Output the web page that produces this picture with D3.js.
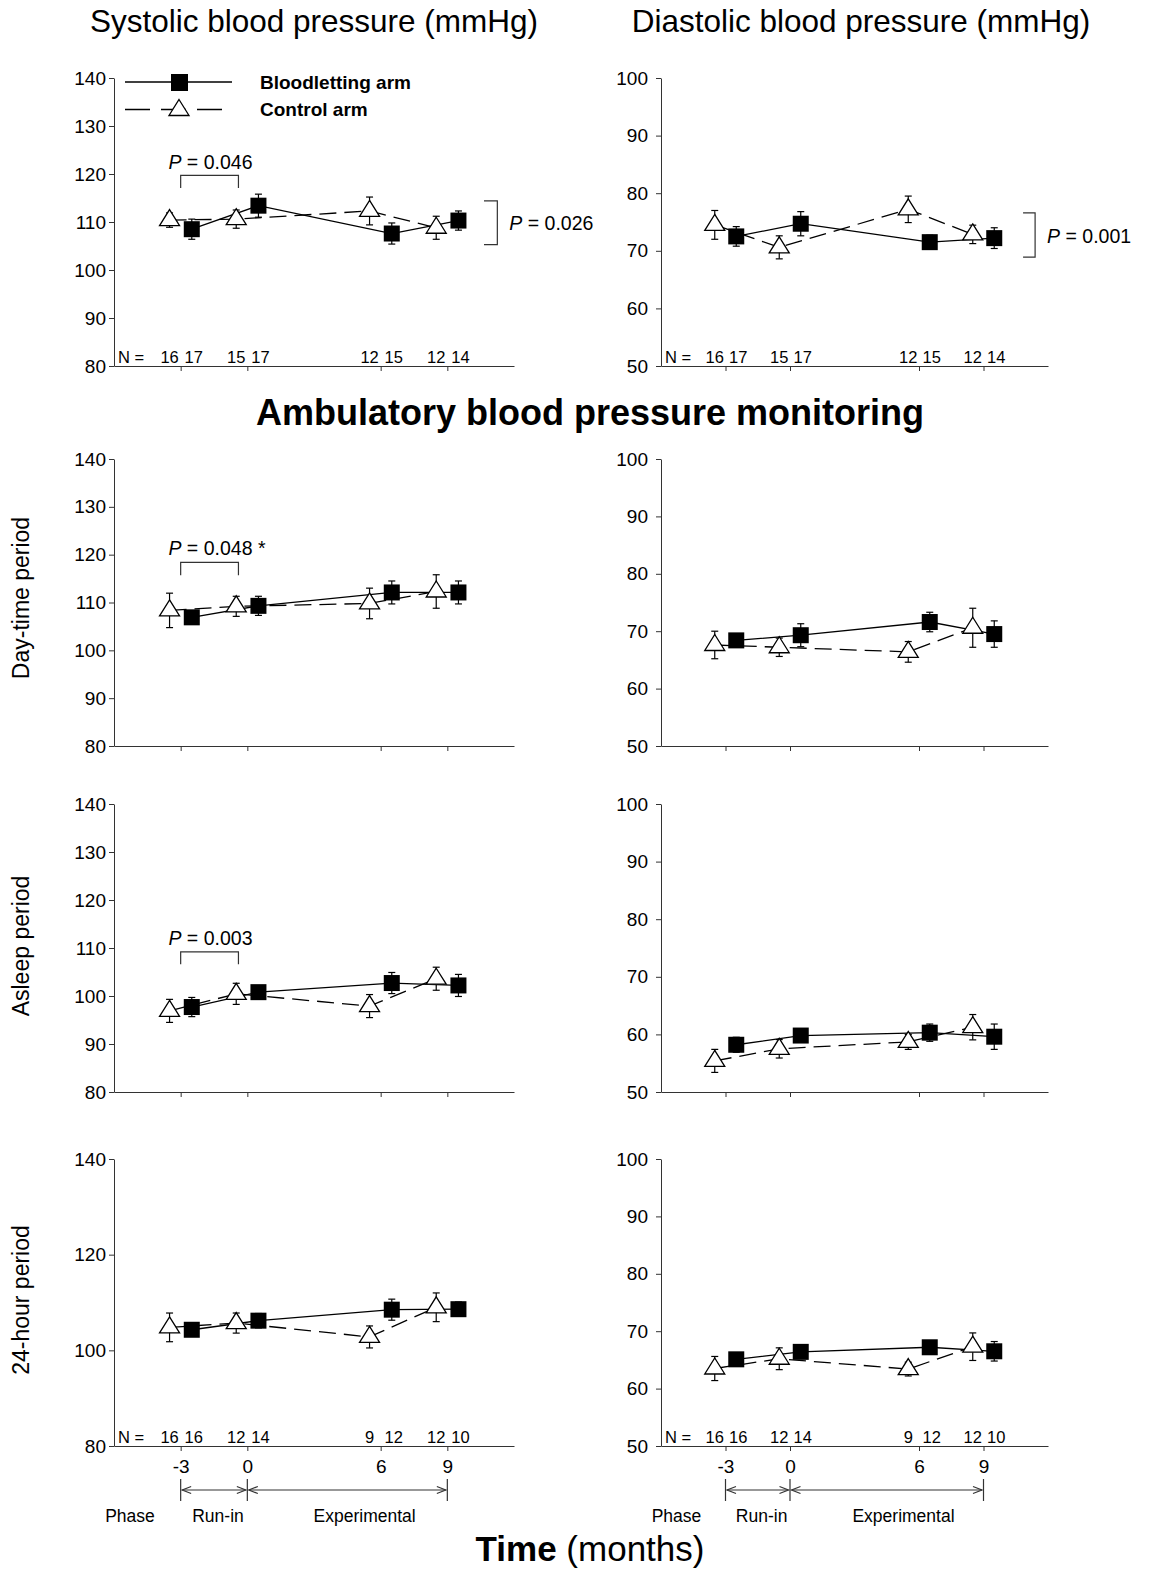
<!DOCTYPE html>
<html>
<head>
<meta charset="utf-8">
<script src="https://cdn.jsdelivr.net/npm/d3@7"></script>
<style>
  body { margin: 0; background: #fff; }
  svg text { font-family: "Liberation Sans", Arial, sans-serif; fill: #000; }
</style>
</head>
<body>
<div id="chart"></div>
<script>
// visit months, the two arms are shifted half a month apart
const months = [-3, 0, 6, 9];
const armShift = 0.5;

const sbpTicks = [80, 90, 100, 110, 120, 130, 140];
const sbp24Ticks = [80, 100, 120, 140];
const dbpTicks = [50, 60, 70, 80, 90, 100];

// office readings
const officeSbpBlood = [108.5, 113.4, 107.6, 110.3];
const officeSbpBloodSem = [2.1, 2.4, 2.2, 2.0];
const officeSbpCtrl = [110.4, 110.6, 112.3, 108.8];
const officeSbpCtrlSem = [1.5, 1.9, 2.9, 2.4];
const officeDbpBlood = [72.5, 74.7, 71.5, 72.2];
const officeDbpBloodSem = [1.7, 2.1, 1.2, 1.8];
const officeDbpCtrl = [74.5, 70.6, 77.2, 72.85];
const officeDbpCtrlSem = [2.5, 2.0, 2.3, 1.6];

// ABPM day-time
const daySbpBlood = [106.9, 109.3, 112.1, 112.1];
const daySbpBloodSem = [1.0, 2.0, 2.4, 2.4];
const daySbpCtrl = [108.35, 109.2, 109.8, 112.3];
const daySbpCtrlSem = [3.6, 2.1, 3.2, 3.5];
const dayDbpBlood = [68.4, 69.3, 71.6, 69.5];
const dayDbpBloodSem = [1.0, 2.0, 1.7, 2.3];
const dayDbpCtrl = [67.6, 67.2, 66.4, 70.6];
const dayDbpCtrlSem = [2.4, 1.6, 1.8, 3.4];

// ABPM asleep
const sleepSbpBlood = [97.7, 100.8, 102.7, 102.2];
const sleepSbpBloodSem = [2.0, 1.0, 2.2, 2.3];
const sleepSbpCtrl = [96.9, 100.45, 97.9, 103.6];
const sleepSbpCtrlSem = [2.4, 2.2, 2.4, 2.4];
const sleepDbpBlood = [58.2, 59.8, 60.3, 59.6];
const sleepDbpBloodSem = [1.3, 1.0, 1.5, 2.2];
const sleepDbpCtrl = [55.4, 57.5, 58.7, 61.25];
const sleepDbpCtrlSem = [2.0, 1.6, 1.3, 2.2];

// ABPM 24-hour
const allSbpBlood = [104.3, 106.2, 108.5, 108.6];
const allSbpBloodSem = [1.0, 1.5, 2.2, 1.5];
const allSbpCtrl = [104.8, 105.7, 102.8, 109.0];
const allSbpCtrlSem = [3.0, 2.1, 2.3, 3.0];
const allDbpBlood = [65.1, 66.4, 67.2, 66.5];
const allDbpBloodSem = [1.0, 1.0, 1.0, 1.7];
const allDbpCtrl = [63.5, 65.2, 63.4, 67.3];
const allDbpCtrlSem = [2.1, 1.9, 1.2, 2.4];

// patients per visit
const nOfficeCtrl = [16, 15, 12, 12];
const nOfficeBlood = [17, 17, 15, 14];
const nAbpmCtrl = [16, 12, 9, 12];
const nAbpmBlood = [16, 14, 12, 10];

const phaseLabels = ['Phase', 'Run-in', 'Experimental'];
const rowLabels = ['Day-time period', 'Asleep period', '24-hour period'];

const W = 1164, H = 1571;
const svg = d3.select('#chart').append('svg')
  .attr('width', W).attr('height', H)
  .attr('viewBox', [0, 0, W, H]);

const colL = { x0: 114, x1: 514, pad: 3 };
const colR = { x0: 661, x1: 1048, pad: 8 };
const rows = [
  { y0: 78, y1: 366 },
  { y0: 459, y1: 746 },
  { y0: 804, y1: 1092 },
  { y0: 1159, y1: 1446 }
];

function pText(g, x, y, value, anchor) {
  const t = g.append('text').attr('x', x).attr('y', y)
    .attr('font-size', 19.5).attr('text-anchor', anchor || 'start');
  t.append('tspan').attr('font-style', 'italic').text('P');
  t.append('tspan').text(' = ' + value);
  return t;
}

function drawPanel(cfg) {
  const x = d3.scaleLinear().domain([-6, 12]).range([cfg.col.x0, cfg.col.x1]);
  const y = d3.scaleLinear().domain(cfg.domain).range([cfg.row.y1, cfg.row.y0]);
  const g = svg.append('g');

  const yAxis = g.append('g')
    .attr('transform', `translate(${cfg.col.x0},0)`)
    .call(d3.axisLeft(y).tickValues(cfg.ticks).tickSize(5).tickSizeOuter(0).tickPadding(cfg.col.pad));

  const xAxis = g.append('g')
    .attr('transform', `translate(0,${cfg.row.y1})`)
    .call(d3.axisBottom(x).tickValues(months).tickSize(5).tickSizeOuter(0).tickPadding(9)
      .tickFormat(cfg.bottom ? d => String(d) : ''));

  [yAxis, xAxis].forEach(a => {
    a.attr('font-family', null).attr('font-size', 19);
    a.selectAll('path, line').attr('stroke', '#333').attr('stroke-width', 1);
    a.selectAll('text').attr('fill', '#000');
  });

  const ctrl = months.map((m, i) => ({ m: m - armShift, v: cfg.ctrl[i], s: cfg.ctrlSem[i] }));
  const blood = months.map((m, i) => ({ m: m + armShift, v: cfg.blood[i], s: cfg.bloodSem[i] }));

  // error bars
  const bars = g.append('g').attr('stroke', '#000').attr('stroke-width', 1.2);
  ctrl.concat(blood).forEach(d => {
    const cx = x(d.m), hi = y(d.v + d.s), lo = y(d.v - d.s);
    bars.append('line').attr('x1', cx).attr('x2', cx).attr('y1', hi).attr('y2', lo);
    bars.append('line').attr('x1', cx - 3.5).attr('x2', cx + 3.5).attr('y1', hi).attr('y2', hi);
    bars.append('line').attr('x1', cx - 3.5).attr('x2', cx + 3.5).attr('y1', lo).attr('y2', lo);
  });

  const line = d3.line().x(d => x(d.m)).y(d => y(d.v));
  g.append('path').datum(blood).attr('d', line)
    .attr('fill', 'none').attr('stroke', '#000').attr('stroke-width', 1.3);
  g.append('path').datum(ctrl).attr('d', line)
    .attr('fill', 'none').attr('stroke', '#000').attr('stroke-width', 1.3)
    .attr('stroke-dasharray', '17,8');

  g.selectAll('.tri').data(ctrl).join('path')
    .attr('class', 'tri')
    .attr('transform', d => `translate(${x(d.m)},${y(d.v)})`)
    .attr('d', 'M0,-10.5L10,5.5L-10,5.5Z')
    .attr('fill', '#fff').attr('stroke', '#000').attr('stroke-width', 1.3);

  g.selectAll('.sq').data(blood).join('rect')
    .attr('class', 'sq')
    .attr('x', d => x(d.m) - 8).attr('y', d => y(d.v) - 8)
    .attr('width', 16).attr('height', 16)
    .attr('fill', '#000');

  if (cfg.nCtrl) {
    const ny = cfg.row.y1 - 3;
    g.append('text').attr('x', cfg.col.x0 + 4).attr('y', ny).attr('font-size', 16.5).text('N =');
    ctrl.forEach((d, i) => g.append('text').attr('x', x(d.m)).attr('y', ny)
      .attr('font-size', 16.5).attr('text-anchor', 'middle').text(cfg.nCtrl[i]));
    blood.forEach((d, i) => g.append('text').attr('x', x(d.m) + 2).attr('y', ny)
      .attr('font-size', 16.5).attr('text-anchor', 'middle').text(cfg.nBlood[i]));
  }

  if (cfg.bottom) {
    const ay = cfg.row.y1 + 44;
    const ph = g.append('g').attr('stroke', '#333').attr('stroke-width', 1.2).attr('fill', 'none');
    [-3, 0, 9].forEach(m => ph.append('line')
      .attr('x1', x(m)).attr('x2', x(m)).attr('y1', ay - 11).attr('y2', ay + 11));
    [[-3, 0], [0, 9]].forEach(([a, b]) => {
      const xa = x(a) + 1.5, xb = x(b) - 1.5;
      ph.append('line').attr('x1', xa).attr('x2', xb).attr('y1', ay).attr('y2', ay);
      ph.append('path').attr('d', `M${xa + 9},${ay - 3.5}L${xa},${ay}L${xa + 9},${ay + 3.5}`);
      ph.append('path').attr('d', `M${xb - 9},${ay - 3.5}L${xb},${ay}L${xb - 9},${ay + 3.5}`);
    });
    const py = cfg.row.y1 + 76;
    [-5.28, -1.32, 5.28].forEach((m, i) => g.append('text')
      .attr('x', x(m)).attr('y', py).attr('font-size', 17.5)
      .attr('text-anchor', 'middle').text(phaseLabels[i]));
  }

  return { g, x, y };
}

const panels = [
  { col: colL, row: rows[0], domain: [80, 140], ticks: sbpTicks,
    blood: officeSbpBlood, bloodSem: officeSbpBloodSem, ctrl: officeSbpCtrl, ctrlSem: officeSbpCtrlSem,
    nCtrl: nOfficeCtrl, nBlood: nOfficeBlood },
  { col: colR, row: rows[0], domain: [50, 100], ticks: dbpTicks,
    blood: officeDbpBlood, bloodSem: officeDbpBloodSem, ctrl: officeDbpCtrl, ctrlSem: officeDbpCtrlSem,
    nCtrl: nOfficeCtrl, nBlood: nOfficeBlood },
  { col: colL, row: rows[1], domain: [80, 140], ticks: sbpTicks,
    blood: daySbpBlood, bloodSem: daySbpBloodSem, ctrl: daySbpCtrl, ctrlSem: daySbpCtrlSem },
  { col: colR, row: rows[1], domain: [50, 100], ticks: dbpTicks,
    blood: dayDbpBlood, bloodSem: dayDbpBloodSem, ctrl: dayDbpCtrl, ctrlSem: dayDbpCtrlSem },
  { col: colL, row: rows[2], domain: [80, 140], ticks: sbpTicks,
    blood: sleepSbpBlood, bloodSem: sleepSbpBloodSem, ctrl: sleepSbpCtrl, ctrlSem: sleepSbpCtrlSem },
  { col: colR, row: rows[2], domain: [50, 100], ticks: dbpTicks,
    blood: sleepDbpBlood, bloodSem: sleepDbpBloodSem, ctrl: sleepDbpCtrl, ctrlSem: sleepDbpCtrlSem },
  { col: colL, row: rows[3], domain: [80, 140], ticks: sbp24Ticks,
    blood: allSbpBlood, bloodSem: allSbpBloodSem, ctrl: allSbpCtrl, ctrlSem: allSbpCtrlSem,
    nCtrl: nAbpmCtrl, nBlood: nAbpmBlood, bottom: true },
  { col: colR, row: rows[3], domain: [50, 100], ticks: dbpTicks,
    blood: allDbpBlood, bloodSem: allDbpBloodSem, ctrl: allDbpCtrl, ctrlSem: allDbpCtrlSem,
    nCtrl: nAbpmCtrl, nBlood: nAbpmBlood, bottom: true }
].map(drawPanel);

// p-value brackets between -3 and 0 months (systolic panels)
function hBracket(p, top, leg, textVal, value) {
  const xa = p.x(-3), xb = p.x(-0.4);
  p.g.append('path')
    .attr('d', `M${xa},${p.y(leg)}V${p.y(top)}H${xb}V${p.y(leg)}`)
    .attr('fill', 'none').attr('stroke', '#333').attr('stroke-width', 1.2);
  pText(p.g, p.x(-3.55), p.y(textVal), value);
}
hBracket(panels[0], 119.7, 117.1, 121.0, '0.046');
hBracket(panels[2], 118.4, 115.7, 119.9, '0.048 *');
hBracket(panels[4], 109.2, 106.6, 110.6, '0.003');

// overall arm difference, right of the office panels
function vBracket(p, mVert, mTick, top, bottom, textVal, value) {
  p.g.append('path')
    .attr('d', `M${p.x(mTick)},${p.y(top)}H${p.x(mVert)}V${p.y(bottom)}H${p.x(mTick)}`)
    .attr('fill', 'none').attr('stroke', '#333').attr('stroke-width', 1.2);
  pText(p.g, p.x(mVert) + 12, p.y(textVal), value);
}
vBracket(panels[0], 11.25, 10.65, 114.4, 105.3, 108.4, '0.026');
vBracket(panels[1], 11.4, 10.84, 76.6, 68.9, 71.4, '0.001');

// legend
const leg = svg.append('g');
leg.append('line').attr('x1', 125).attr('x2', 232).attr('y1', 82).attr('y2', 82)
  .attr('stroke', '#000').attr('stroke-width', 1.3);
leg.append('rect').attr('x', 171).attr('y', 74).attr('width', 17).attr('height', 17).attr('fill', '#000');
leg.append('line').attr('x1', 125).attr('x2', 232).attr('y1', 109.5).attr('y2', 109.5)
  .attr('stroke', '#000').attr('stroke-width', 1.3).attr('stroke-dasharray', '25,11');
leg.append('path').attr('transform', 'translate(179,110)').attr('d', 'M0,-10.5L10,5.5L-10,5.5Z')
  .attr('fill', '#fff').attr('stroke', '#000').attr('stroke-width', 1.3);
leg.append('text').attr('x', 260).attr('y', 89).attr('font-size', 19).attr('font-weight', 'bold')
  .text('Bloodletting arm');
leg.append('text').attr('x', 260).attr('y', 116).attr('font-size', 19).attr('font-weight', 'bold')
  .text('Control arm');

// titles
svg.append('text').attr('x', 314).attr('y', 32).attr('font-size', 31.5)
  .attr('text-anchor', 'middle').text('Systolic blood pressure (mmHg)');
svg.append('text').attr('x', 861).attr('y', 32).attr('font-size', 31.5)
  .attr('text-anchor', 'middle').text('Diastolic blood pressure (mmHg)');
svg.append('text').attr('x', 590).attr('y', 425).attr('font-size', 36).attr('font-weight', 'bold')
  .attr('text-anchor', 'middle').text('Ambulatory blood pressure monitoring');

[598, 946, 1300].forEach((cy, i) => svg.append('text')
  .attr('transform', `translate(29,${cy}) rotate(-90)`)
  .attr('font-size', 23).attr('text-anchor', 'middle').text(rowLabels[i]));

const xt = svg.append('text').attr('x', 590).attr('y', 1561).attr('font-size', 35)
  .attr('text-anchor', 'middle');
xt.append('tspan').attr('font-weight', 'bold').text('Time');
xt.append('tspan').text(' (months)');
</script>
</body>
</html>
